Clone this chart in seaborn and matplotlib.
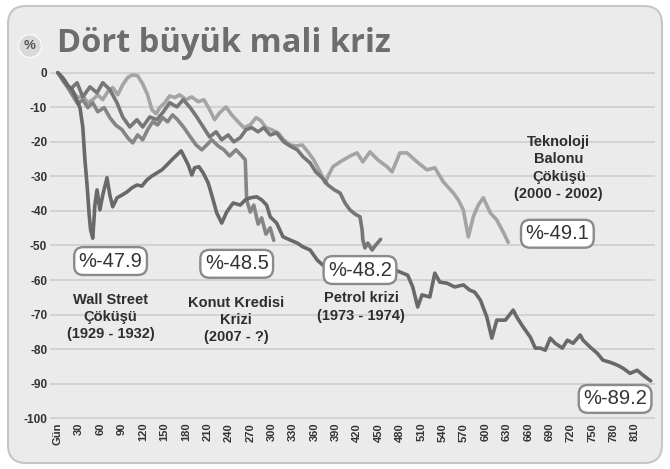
import numpy as np
import pandas as pd
import seaborn as sns
import matplotlib.pyplot as plt
from matplotlib.patches import FancyBboxPatch, Circle

# Gün / yüzde değişim değerleri
ws_gun = [0, 6, 13, 20, 25, 31, 35, 38, 41, 44, 46, 49, 52, 55, 59, 63, 69, 73, 77, 83,
          90, 97, 104, 111, 118, 125, 132, 139, 146, 153, 160, 167, 173, 178, 183, 188, 192, 198, 204, 211,
          216, 223, 230, 237, 246, 256, 263, 270, 279, 286, 293, 298, 307, 316, 326, 336, 344, 354, 364, 372,
          389, 410, 431, 452, 473, 484, 491, 498, 505, 511, 522, 529, 536, 546, 557, 569, 578, 585, 593, 602,
          609, 616, 628, 639, 644, 653, 663, 670, 677, 684, 691, 698, 708, 715, 723, 733, 737, 747, 757, 765,
          775, 785, 793, 803, 813, 821, 832]
ws_deger = [0, -1.4, -3.5, -4.9, -7.0, -10.1, -15.7, -25.2, -32.5, -41.2, -45.5, -47.9, -38.3, -33.9, -39.7, -35.4, -30.4, -35.4, -38.8, -36.2,
            -35.4, -34.5, -33.3, -32.5, -32.8, -31.0, -29.9, -29.0, -28.1, -26.7, -25.2, -23.8, -22.6, -24.6, -26.7, -29.6, -27.5, -27.2, -29.0, -31.9,
            -35.4, -40.6, -43.5, -40.3, -37.7, -38.3, -36.8, -36.2, -35.9, -36.8, -38.3, -41.7, -43.5, -47.5, -48.4, -49.3, -50.4, -51.3, -54.2, -55.7,
            -54.8, -53.6, -54.8, -55.7, -57.1, -58.0, -58.6, -62.0, -67.8, -64.3, -64.9, -58.0, -60.6, -60.9, -62.0, -61.4, -62.9, -63.5, -65.8, -70.7,
            -76.8, -71.6, -71.6, -68.7, -70.7, -73.6, -76.5, -79.7, -79.7, -80.3, -76.8, -78.3, -79.7, -77.4, -78.3, -75.9, -77.4, -79.4, -81.2, -83.2,
            -83.8, -84.6, -85.5, -87.0, -86.1, -87.5, -89.2]

tek_gun = [0, 7, 14, 21, 28, 35, 42, 49, 56, 63, 70, 77, 84, 91, 98, 105, 112, 119, 126, 132,
           138, 143, 150, 157, 164, 171, 180, 188, 197, 205, 213, 220, 227, 236, 244, 253, 261, 270, 278, 285,
           292, 300, 309, 317, 326, 334, 343, 351, 359, 368, 375, 380, 386, 396, 406, 413, 420, 428, 438, 449,
           462, 469, 480, 490, 504, 518, 529, 541, 555, 562, 569, 576, 583, 590, 597, 607, 616, 625, 632]
tek_deger = [0, -1.4, -3.8, -5.5, -7.2, -6.7, -8.7, -7.8, -6.4, -7.8, -5.5, -4.3, -6.4, -3.5, -1.4, -0.6, -0.9, -3.2, -6.4, -10.7,
             -11.9, -10.1, -8.7, -6.7, -7.2, -6.4, -7.8, -7.0, -8.4, -7.8, -10.7, -13.6, -11.6, -9.9, -12.2, -14.2, -15.9, -15.1, -13.0, -13.9,
             -15.9, -16.5, -17.4, -19.4, -20.9, -21.2, -20.9, -22.9, -25.2, -28.7, -31.9, -29.6, -27.2, -25.8, -24.6, -23.8, -23.2, -25.8, -22.9, -25.2,
             -27.2, -28.7, -23.2, -23.2, -25.8, -28.1, -27.5, -31.6, -34.8, -36.8, -39.7, -47.5, -41.7, -38.3, -36.2, -40.6, -42.6, -46.1, -49.1]

pet_gun = [0, 10, 17, 27, 35, 45, 55, 63, 73, 83, 91, 101, 111, 119, 129, 139, 147, 157, 167, 176,
           185, 195, 204, 213, 222, 230, 239, 247, 256, 264, 272, 281, 289, 298, 307, 317, 326, 336, 344, 354,
           362, 371, 379, 388, 396, 403, 410, 417, 424, 427, 428, 431, 435, 441, 446, 453]
pet_deger = [0, -2.3, -4.9, -2.9, -7.0, -4.1, -5.8, -2.9, -4.9, -8.7, -12.8, -15.7, -13.6, -15.7, -12.8, -13.6, -11.6, -8.7, -9.9, -7.8,
             -9.9, -12.8, -15.7, -18.6, -17.1, -19.4, -18.0, -20.0, -18.8, -16.5, -15.9, -17.1, -15.9, -18.0, -17.4, -20.0, -21.2, -22.3, -24.3, -26.1,
             -28.7, -30.4, -32.5, -33.9, -34.8, -37.7, -39.7, -40.9, -41.7, -45.5, -48.4, -50.7, -49.3, -51.3, -49.9, -48.2]

kon_gun = [0, 7, 14, 21, 28, 35, 42, 49, 56, 65, 73, 81, 90, 98, 105, 112, 119, 126, 133, 140,
           147, 154, 161, 168, 177, 185, 194, 202, 209, 216, 225, 233, 241, 250, 257, 263, 265, 270, 275, 281,
           286, 292, 298, 303]
kon_deger = [0, -2.3, -4.3, -6.7, -9.0, -7.8, -10.1, -8.7, -11.3, -10.1, -13.0, -15.1, -16.5, -18.8, -20.3, -18.0, -19.4, -16.5, -14.2, -15.1,
             -13.0, -14.2, -12.2, -13.6, -15.9, -18.3, -20.9, -22.3, -20.9, -19.4, -21.2, -22.3, -24.1, -22.3, -23.8, -25.2, -36.8, -40.3, -38.3, -43.8,
             -42.0, -46.7, -44.9, -48.5]

kriz_adlari = ['Teknoloji', 'Petrol', 'Konut', 'Wall Street']
x_etiketler = ['Gün'] + [str(g) for g in range(30, 811, 30)]
y_degerler = list(range(0, -101, -10))

df = pd.concat([
    pd.DataFrame({'gun': tek_gun, 'deger': tek_deger, 'kriz': 'Teknoloji'}),
    pd.DataFrame({'gun': pet_gun, 'deger': pet_deger, 'kriz': 'Petrol'}),
    pd.DataFrame({'gun': kon_gun, 'deger': kon_deger, 'kriz': 'Konut'}),
    pd.DataFrame({'gun': ws_gun, 'deger': ws_deger, 'kriz': 'Wall Street'}),
])

sns.set_style('white')
plt.rcParams['font.family'] = ['Liberation Sans', 'DejaVu Sans']

W, H = 670, 469
fig = plt.figure(figsize=(W / 100, H / 100), dpi=100)
fig.patch.set_facecolor('white')

panel = FancyBboxPatch((0.08, 0.06), 6.54, 4.57, boxstyle='round,pad=0,rounding_size=0.18',
                       transform=fig.dpi_scale_trans, facecolor='#ebebeb', edgecolor='#c6c6c6',
                       lw=1.5, zorder=-10)
fig.patches.append(panel)

# başlık
fig.patches.append(Circle((0.30, (H - 46) / 100), 0.115, transform=fig.dpi_scale_trans,
                          facecolor='#d9d9d9', edgecolor='#f7f7f7', lw=1.2, zorder=-9))
fig.text(30 / W, 1 - 46 / H, '%', ha='center', va='center', fontsize=9.5, fontweight='bold', color='#555555')
fig.text(57 / W, 1 - 44 / H, 'Dört büyük mali kriz', ha='left', va='center', fontsize=23.5,
         fontweight='bold', color='#6d6d6d', family=['Open Sans', 'DejaVu Sans'])

ax = fig.add_axes([50 / W, (H - 420) / H, 605 / W, 349 / H])
ax.set_facecolor('none')

renkler = {'Teknoloji': '#a4a4a4', 'Petrol': '#767676', 'Konut': '#858585', 'Wall Street': '#696969'}
sns.lineplot(data=df, x='gun', y='deger', hue='kriz', hue_order=kriz_adlari, palette=renkler,
             estimator=None, sort=False, linewidth=2.6, legend=False, ax=ax)

ax.set_xlim(-11, 838)
ax.set_ylim(-100.5, 0.5)
ax.set_yticks(y_degerler)
ax.set_yticklabels([str(v) for v in y_degerler], fontsize=8.5, fontweight='bold', color='#333333')
ax.set_xticks(list(range(0, 811, 30)))
ax.set_xticklabels(x_etiketler, rotation=90, fontsize=8, fontweight='bold', color='#333333')
ax.tick_params(length=0, pad=2)
ax.grid(axis='y', color='#d2d2d2', lw=1.4)
ax.set_axisbelow(True)
sns.despine(ax=ax, left=True, bottom=True)
ax.set_xlabel('')
ax.set_ylabel('')

kutu = dict(boxstyle='round,pad=0.22,rounding_size=0.45', fc='white', ec='#8a8a8a', lw=1.7)
kutular = [(74, -54.5, '%-47.9'), (251, -55.3, '%-48.5'), (424, -57.1, '%-48.2'),
           (701, -46.6, '%-49.1'), (782, -94.4, '%-89.2')]
for gx, gy, s in kutular:
    ax.text(gx, gy, s, ha='center', va='center', fontsize=14.5, color='#333333', bbox=kutu, zorder=6)

notlar = [(74, -70.7, 'Wall Street\nÇöküşü\n(1929 - 1932)'),
          (250, -71.6, 'Konut Kredisi\nKrizi\n(2007 - ?)'),
          (426, -67.8, 'Petrol krizi\n(1973 - 1974)'),
          (703, -27.6, 'Teknoloji\nBalonu\nÇöküşü\n(2000 - 2002)')]
for gx, gy, s in notlar:
    ax.text(gx, gy, s, ha='center', va='center', fontsize=10.5, fontweight='bold', color='#2e2e2e',
            linespacing=1.3, zorder=6)

plt.savefig('out.png', dpi=100)
